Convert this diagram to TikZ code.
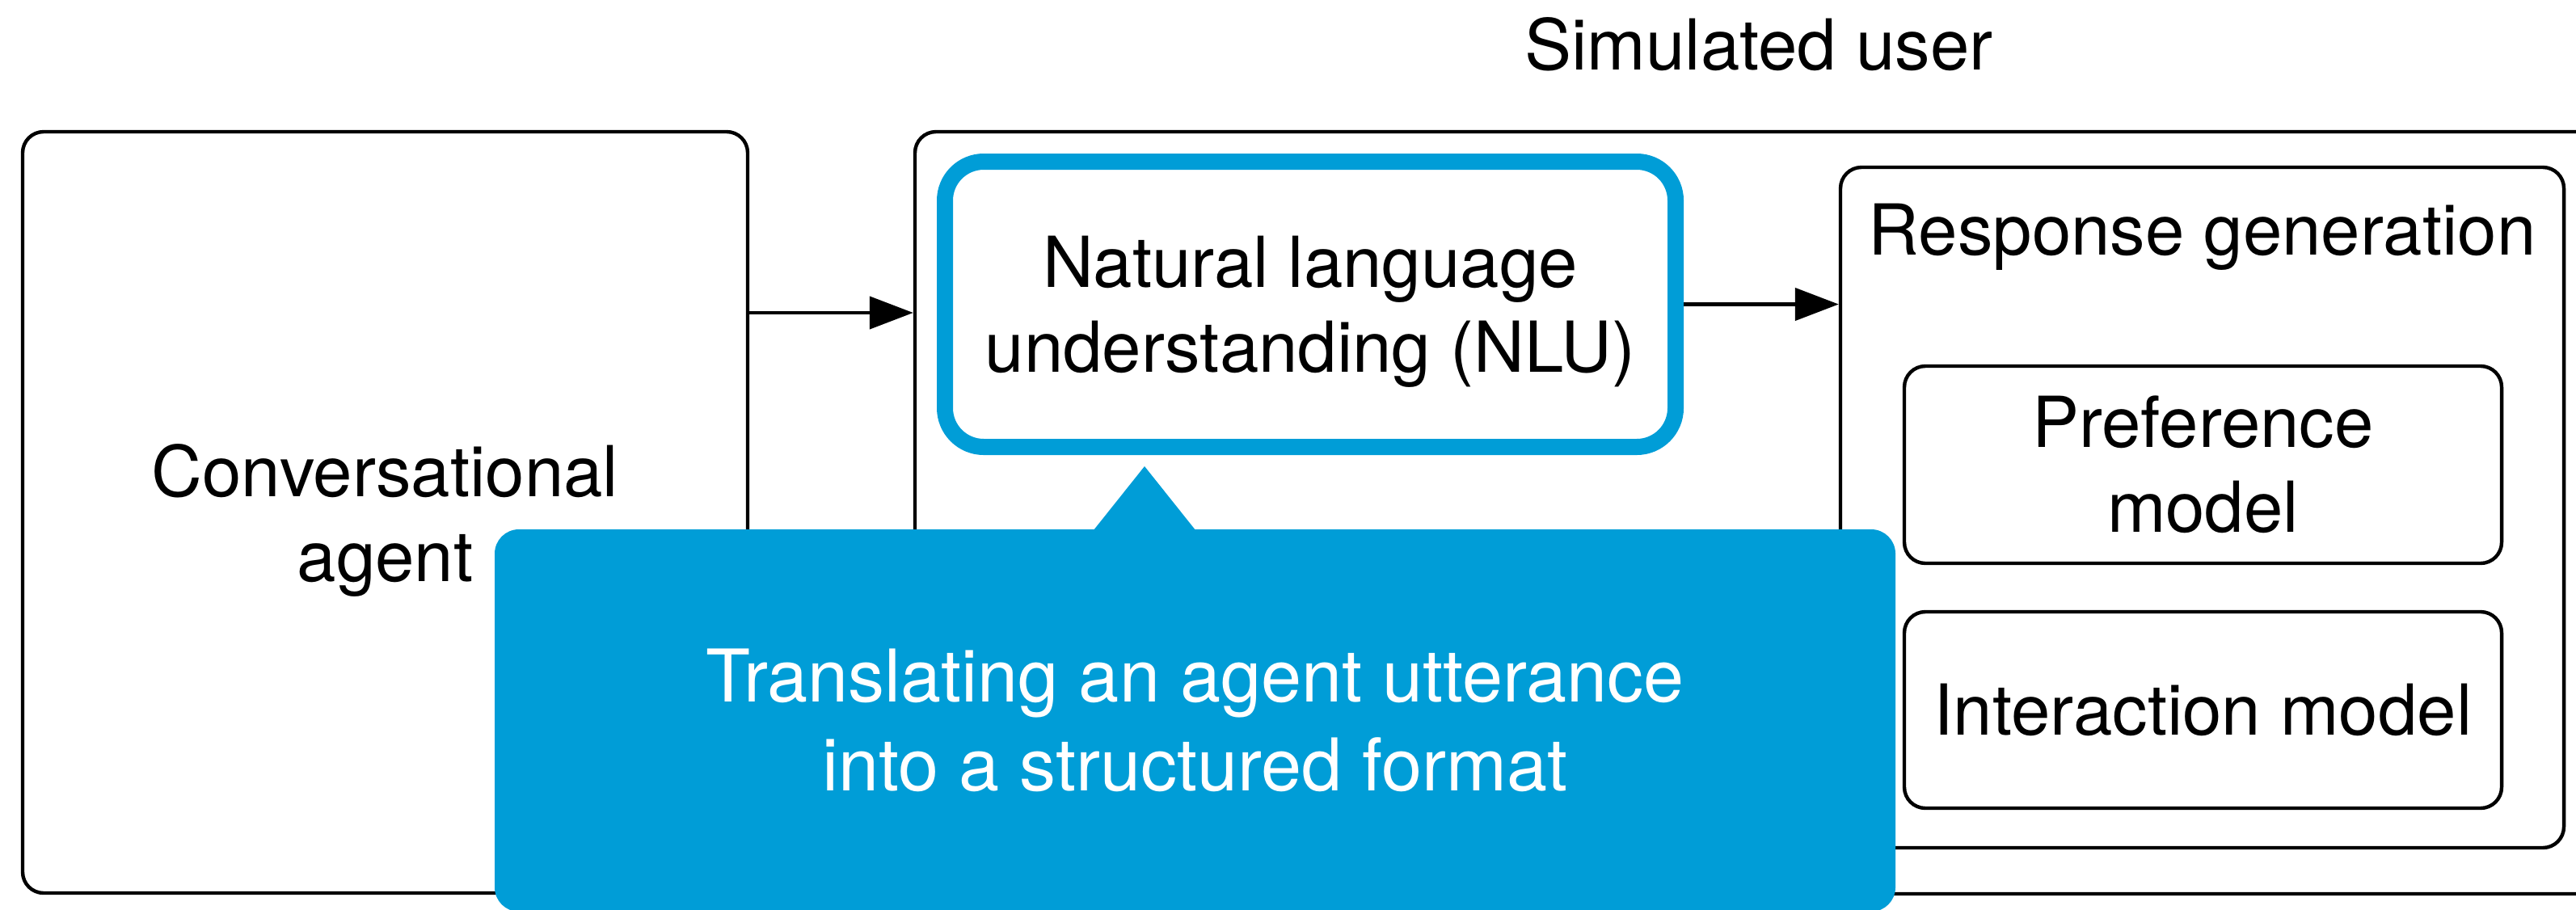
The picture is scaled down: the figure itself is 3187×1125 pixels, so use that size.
\documentclass[tikz,border=0pt]{standalone}
\usepackage{fontspec}
\usepackage{amsmath}
\setmainfont{TeX Gyre Heros}
\usetikzlibrary{arrows.meta,calc}
\definecolor{calloutblue}{RGB}{0,157,215}
\begin{document}
\begin{tikzpicture}[x=0.25pt,y=-0.25pt,
  every node/.style={font=\fontsize{21.75pt}{26.25pt}\selectfont, align=center, inner sep=0pt},
  box/.style={draw, line width=1.1pt, rounded corners=6.5pt},
  arr/.style={line width=1.1pt, -{Triangle[length=13.5pt,width=10pt]}},
  nlubox/.style={draw=calloutblue, line width=5pt, rounded corners=12pt},
  callout/.style={fill=calloutblue, text=white, rounded corners=7.5pt,
    font=\fontsize{22.5pt}{27.5pt}\selectfont}
]
\useasboundingbox (0,0) rectangle (3187,1125);

% left block: the agent
\node[box, minimum width=224.25pt, minimum height=235.5pt] (conv) at (476.5,634)
  {Conversational\\\smash[b]{agent}};

% right block: the simulated user and its parts
\node[box, minimum width=522pt, minimum height=235.75pt] (sim) at (2176,634.5) {};
\node[anchor=base] (simtitle) at (2176,86) {Simulated user};

\node[nlubox, minimum width=226pt, minimum height=88.25pt] (nlu) at (1621,376.5)
  {Natural language\\\smash[b]{understanding (NLU)}};

\node[box, minimum width=223.75pt, minimum height=210.5pt] (resp) at (2724.5,628) {};
\node[anchor=base] (resptitle) at (2724.5,315) {Response generation};
\node[box, minimum width=184.75pt, minimum height=61pt] (pref) at (2725.5,575)
  {Preference\\model};
\node[box, minimum width=184.75pt, minimum height=60.75pt] (inter) at (2725.5,878.5)
  {Interaction model};

% connectors
\coordinate (a1) at (0,387);
\draw[arr] (conv.east |- a1) -- (sim.west |- a1);
\draw[arr] (nlu.east) -- (resp.west |- nlu.east);

% explanatory callout pointing at the NLU block
\node[callout, minimum width=433.25pt, minimum height=118.25pt] (note) at (1478.5,891.5)
  {Translating an agent utterance\\into a structured format};
\coordinate (tip) at (1416,577);
\fill[calloutblue] ($(tip |- note.north)+(-64,3)$) -- (tip) -- ($(tip |- note.north)+(64,3)$) -- cycle;
\end{tikzpicture}
\end{document}
